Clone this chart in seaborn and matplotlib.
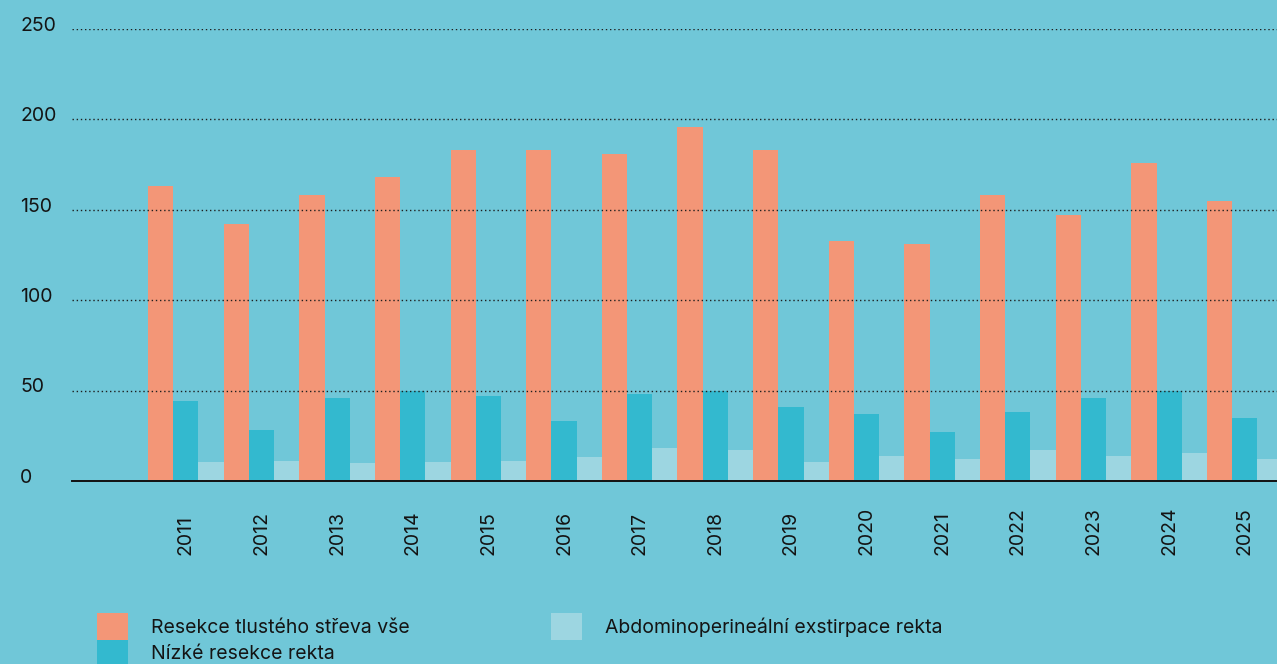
import matplotlib
matplotlib.use('Agg')
import matplotlib.pyplot as plt
import seaborn as sns
import pandas as pd

years = ['2011', '2012', '2013', '2014', '2015', '2016', '2017', '2018',
         '2019', '2020', '2021', '2022', '2023', '2024', '2025']
series_names = ['Resekce tlustého střeva vše', 'Nízké resekce rekta',
                'Abdominoperineální exstirpace rekta']
colon_all = [163, 142, 158, 168, 183, 183, 181, 196, 183, 133, 131, 158, 147, 176, 155]
low_rectum = [44, 28, 46, 50, 47, 33, 48, 50, 41, 37, 27, 38, 46, 50, 35]
apr = [10.5, 11, 10, 10.5, 11, 13, 18, 17, 10.5, 14, 12, 17, 14, 15.5, 12]
yticks = [0, 50, 100, 150, 200, 250]

bg = '#70c7d8'
colors = ['#f39677', '#33b9cf', '#9dd6e1']
text_color = '#141414'

df = pd.DataFrame({
    'year': years * 3,
    'value': colon_all + low_rectum + apr,
    'series': [series_names[0]] * 15 + [series_names[1]] * 15 + [series_names[2]] * 15,
})

sns.set_theme(style='white')
plt.rcParams['font.family'] = ['Inter', 'DejaVu Sans']

fig = plt.figure(figsize=(12.77, 6.64), dpi=100, facecolor=bg)
ax = fig.add_axes([72 / 1277, 183 / 664, 1205 / 1277, 452 / 664])
ax.set_facecolor(bg)

sns.barplot(data=df, x='year', y='value', hue='series', hue_order=series_names,
            palette=colors, width=1, saturation=1, linewidth=0, ax=ax)

handles, labels = ax.get_legend_handles_labels()
ax.get_legend().remove()

ax.set_xlim(-1.505, 14.426)
ax.set_ylim(0, 250)
ax.set_xlabel('')
ax.set_ylabel('')

# grid over the bars, dotted
ax.set_yticks(yticks)
ax.set_yticklabels([])
ax.set_axisbelow(False)
ax.grid(axis='y', color='#1e1e1e', linestyle=(0, (1, 2)), linewidth=1)
ax.grid(axis='x', visible=False)
ax.tick_params(axis='both', length=0)

for s in ['left', 'top', 'right']:
    ax.spines[s].set_visible(False)
ax.spines['bottom'].set_color('#111111')
ax.spines['bottom'].set_linewidth(1.4)
ax.spines['bottom'].set_zorder(3)

for v in yticks:
    ax.text(-52 / 1205, v - 1, str(v), transform=ax.get_yaxis_transform(),
            ha='left', va='baseline', fontsize=14, color=text_color)

ax.set_xticks(range(len(years)))
ax.set_xticklabels(years, rotation=90, va='bottom', fontsize=14, color=text_color)
ax.tick_params(axis='x', pad=53)

# square swatches that touch each other
leg_kw = dict(loc='upper left', frameon=False, borderpad=0, borderaxespad=0,
              handlelength=1.574, handleheight=1.736, handletextpad=1.18,
              labelspacing=0, fontsize=14, labelcolor=text_color)
fig.legend(handles[:2], labels[:2], bbox_to_anchor=(97 / 1277, 1 - 613 / 664), **leg_kw)
fig.legend(handles[2:], labels[2:], bbox_to_anchor=(551 / 1277, 1 - 613 / 664), **leg_kw)

fig.savefig('out.png', dpi=100, facecolor=bg)
